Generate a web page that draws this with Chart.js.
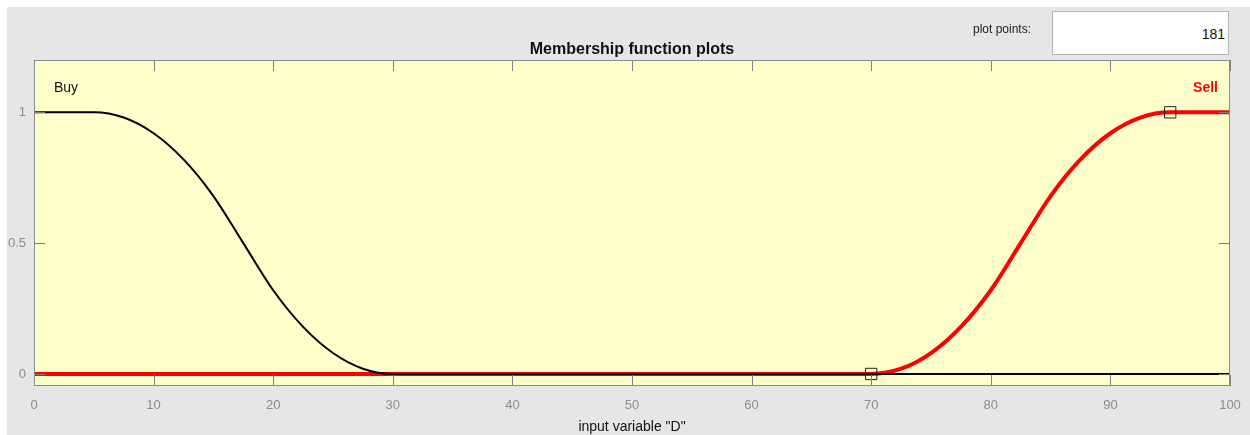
<!DOCTYPE html>
<html>
<head>
<meta charset="utf-8">
<script src="https://cdn.jsdelivr.net/npm/chart.js@4"></script>
<style>
  body { margin: 0; background: #ffffff; width: 1250px; height: 435px; overflow: hidden; }
  #frame { position: absolute; left: 7px; top: 7px; width: 1243px; height: 428px; background: #e6e6e6; }
  #chart { position: absolute; left: 0; top: 0; }
  #ppLabel { position: absolute; left: 973px; top: 22px; font: 12px "Liberation Sans", Arial, sans-serif; color: #222; }
  #ppBox { position: absolute; left: 1052px; top: 11px; width: 175px; height: 42px; background: #fff;
           border: 1px solid #b4b4b4; font: 14px "Liberation Sans", Arial, sans-serif; color: #111;
           text-align: right; line-height: 44px; }
  #ppBox span { margin-right: 3px; }
</style>
</head>
<body>
<div id="frame"></div>
<canvas id="chart" width="1250" height="435"></canvas>
<div id="ppLabel">plot points:</div>
<div id="ppBox"><span>181</span></div>
<script>
// Values
const xValues = [0, 2.5, 5, 7.5, 10, 12.5, 15, 17.5, 20, 22.5, 25, 27.5, 30, 35, 40, 45, 50, 55, 60, 65, 70, 72.5, 75, 77.5, 80, 82.5, 85, 87.5, 90, 92.5, 95, 97.5, 100];
const buyValues = [1, 1, 1, 0.98, 0.92, 0.82, 0.68, 0.5, 0.32, 0.18, 0.08, 0.02, 0, 0, 0, 0, 0, 0, 0, 0, 0, 0, 0, 0, 0, 0, 0, 0, 0, 0, 0, 0, 0];
const sellValues = [0, 0, 0, 0, 0, 0, 0, 0, 0, 0, 0, 0, 0, 0, 0, 0, 0, 0, 0, 0, 0, 0.02, 0.08, 0.18, 0.32, 0.5, 0.68, 0.82, 0.92, 0.98, 1, 1, 1];
const markerX = [70, 95];
const markerY = [0, 1];
const xTicks = [0, 10, 20, 30, 40, 50, 60, 70, 80, 90, 100];
const yTicks = [0, 0.5, 1];

const toPoints = (xs, ys) => xs.map((x, i) => ({ x: x, y: ys[i] }));

// Background, inward ticks, labels and title
const decorPlugin = {
  id: "decor",
  beforeDraw(chart) {
    const { ctx, chartArea: a } = chart;
    ctx.save();
    ctx.fillStyle = "#ffffcc";
    ctx.fillRect(a.left, a.top, a.right - a.left, a.bottom - a.top);
    ctx.restore();
  },
  afterDraw(chart) {
    const { ctx, chartArea: a, scales } = chart;
    ctx.save();
    ctx.strokeStyle = "#7f7f7f";
    ctx.lineWidth = 1;
    xTicks.forEach((t) => {
      const px = Math.round(scales.x.getPixelForValue(t)) + 0.5;
      ctx.beginPath();
      ctx.moveTo(px, a.top); ctx.lineTo(px, a.top + 11);
      ctx.moveTo(px, a.bottom); ctx.lineTo(px, a.bottom - 11);
      ctx.stroke();
    });
    yTicks.forEach((t) => {
      const py = Math.round(scales.y.getPixelForValue(t)) + 0.5;
      ctx.beginPath();
      ctx.moveTo(a.left, py); ctx.lineTo(a.left + 11, py);
      ctx.moveTo(a.right, py); ctx.lineTo(a.right - 11, py);
      ctx.stroke();
    });
    ctx.strokeStyle = "#8a8a8a";
    ctx.strokeRect(a.left + 0.5, a.top + 0.5, a.right - a.left - 1, a.bottom - a.top - 1);

    ctx.fillStyle = "#111";
    ctx.font = "bold 16px 'Liberation Sans', Arial, sans-serif";
    ctx.textAlign = "center";
    ctx.textBaseline = "alphabetic";
    ctx.fillText("Membership function plots", (a.left + a.right) / 2, 54);

    ctx.font = "14px 'Liberation Sans', Arial, sans-serif";
    ctx.fillText('input variable "D"', (a.left + a.right) / 2, 431);

    ctx.textAlign = "left";
    ctx.fillText("Buy", 54, 92);
    ctx.fillStyle = "#ff0000";
    ctx.font = "bold 14px 'Liberation Sans', Arial, sans-serif";
    ctx.textAlign = "right";
    ctx.fillText("Sell", 1218, 92);
    ctx.restore();
  },
};

const ctx = document.getElementById("chart").getContext("2d");
const chart = new Chart(ctx, {
  type: "line",
  data: {
    datasets: [
      {
        label: "Markers",
        type: "scatter",
        data: toPoints(markerX, markerY),
        pointStyle: "rect",
        pointRadius: 8,
        pointBackgroundColor: "rgba(0,0,0,0)",
        pointBorderColor: "#222222",
        pointBorderWidth: 1,
        order: 0,
      },
      {
        label: "Buy",
        data: toPoints(xValues, buyValues),
        borderColor: "#000000",
        borderWidth: 2,
        pointRadius: 0,
        cubicInterpolationMode: "monotone",
        order: 1,
      },
      {
        label: "Sell",
        data: toPoints(xValues, sellValues),
        borderColor: "#ff0000",
        borderWidth: 4,
        pointRadius: 0,
        cubicInterpolationMode: "monotone",
        order: 2,
      },
    ],
  },
  options: {
    responsive: false,
    animation: false,
    layout: { padding: { left: 0, top: 60, right: 20, bottom: 0 } },
    plugins: { legend: { display: false }, tooltip: { enabled: false }, title: { display: false } },
    scales: {
      x: {
        type: "linear",
        min: 0,
        max: 100,
        afterBuildTicks: (s) => { s.ticks = xTicks.map((v) => ({ value: v })); },
        afterFit: (s) => { s.height = 49; s.paddingLeft = 0; s.paddingRight = 0; },
        grid: { display: false, drawTicks: false },
        border: { display: false },
        ticks: {
          color: "#8c8c8c",
          font: { size: 13, family: "'Liberation Sans', Arial, sans-serif" },
          padding: 12,
          maxRotation: 0,
        },
      },
      y: {
        min: -0.046,
        max: 1.2,
        afterBuildTicks: (s) => { s.ticks = yTicks.map((v) => ({ value: v })); },
        afterFit: (s) => { s.width = 34; },
        grid: { display: false, drawTicks: false },
        border: { display: false },
        ticks: {
          color: "#8c8c8c",
          font: { size: 13, family: "'Liberation Sans', Arial, sans-serif" },
          padding: 8,
          callback: (v) => String(v),
        },
      },
    },
  },
  plugins: [decorPlugin],
});
</script>
</body>
</html>
